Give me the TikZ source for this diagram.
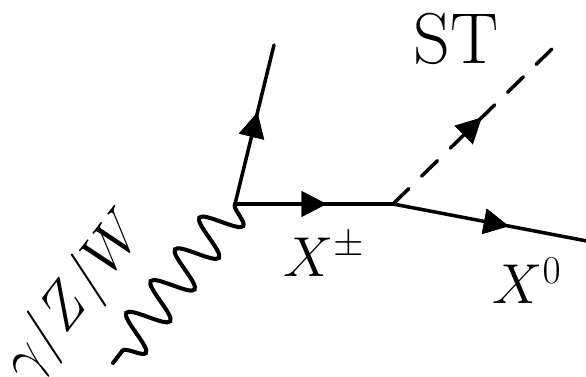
\documentclass[tikz,border=0pt]{standalone}
\usepackage{fix-cm}
\usepackage{fontspec}
\usepackage{tkz-euclide}
\usetikzlibrary{arrows.meta,decorations.pathmorphing,decorations.markings}
\newcommand\LblFont{\fontsize{32}{38}\selectfont}
\newcommand\GauLblFont{\fontsize{34}{40}\selectfont}
\newcommand\BigLblFont{\fontsize{41}{48}\selectfont}
\tikzset{
  fermion/.style={postaction={decorate},
    decoration={markings,mark=at position 0.5 with
      {\arrow[xshift=0.25cm]{Triangle[length=0.5cm,width=0.5cm]}}}},
  scalar/.style={fermion,dash pattern=on 0.44cm off 0.36cm},
  photon/.style={line width=2.3pt,decorate,
    decoration={snake,segment length=0.8cm,amplitude=0.4cm}},
}

\begin{document}
\begin{tikzpicture}
\tkzSetUpLine[line width=2pt,color=black]
\useasboundingbox (0,0) rectangle (11.72,7.54);

\tkzDefPoint(4.70,3.46){V1}
\tkzDefPoint(7.86,3.46){V2}
\tkzDefPoint(5.48,6.64){F1}
\tkzDefPoint(11.06,6.58){S1}
\tkzDefPoint(12.00,2.67){X1}
\tkzDefPoint(2.26,0.28){G1}

\tkzDrawSegment[photon](V1,G1)
\tkzDrawSegments[fermion](V1,F1 V1,V2 V2,X1)
\tkzDrawSegment[scalar](V2,S1)

\node[font=\LblFont] (lblXc) at (6.48,2.45) {$X^{\pm}$};
\node[font=\LblFont] (lblXn) at (10.54,1.92) {$X^{0}$};
\node[font=\BigLblFont] (lblST) at (9.12,6.77) {ST};
\node[font=\GauLblFont,rotate=52.3] (lblG) at (1.53,1.60) {$\gamma/Z/W$};

\end{tikzpicture}
\end{document}
